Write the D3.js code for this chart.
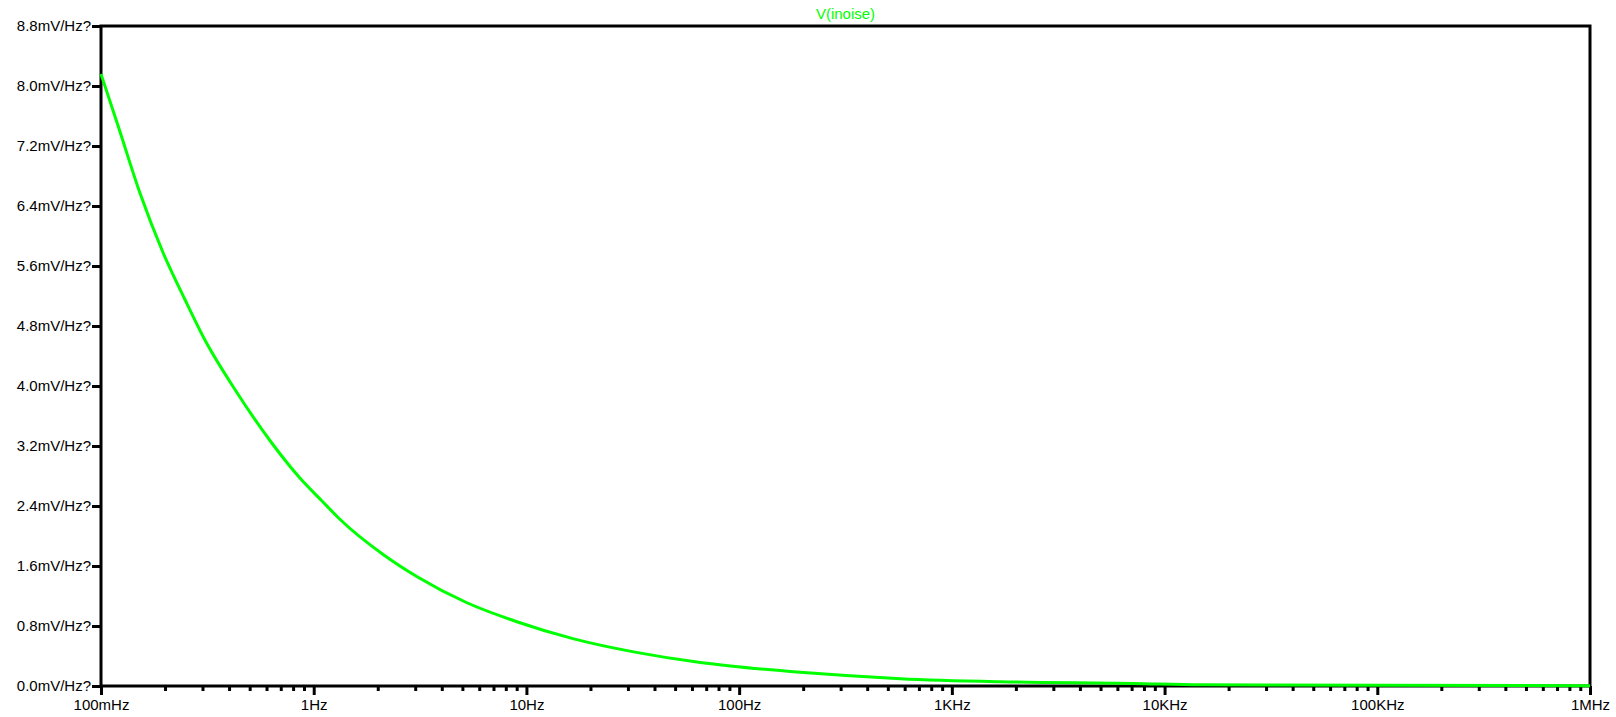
<!DOCTYPE html>
<html>
<head>
<meta charset="utf-8">
<script src="https://cdn.jsdelivr.net/npm/d3@7"></script>
<style>
    html, body { margin: 0; padding: 0; background: #ffffff; }
    #chart { width: 1616px; height: 717px; }
</style>
</head>
<body>
<div id="chart"></div>
<script>
// Noise spectral density (frequency in Hz, value in mV/Hz?)
const freqs = [0.1, 0.1206, 0.1526, 0.1963, 0.2484, 0.3085, 0.427, 0.635, 0.863, 1.091, 1.331, 2.128, 3.05, 5.25, 9.02, 16.7, 31.9, 65.7, 91, 194, 573, 1694, 7150, 14800, 100000, 1000000];
const noise = [8.16, 7.46, 6.57, 5.77, 5.15, 4.61, 3.95, 3.24, 2.77, 2.47, 2.22, 1.75, 1.46, 1.11, 0.857, 0.628, 0.455, 0.314, 0.267, 0.182, 0.098, 0.057, 0.034, 0.016, 0.01, 0.005];

// Axis ticks
const yTicks = [0, 0.8, 1.6, 2.4, 3.2, 4.0, 4.8, 5.6, 6.4, 7.2, 8.0, 8.8];
const xMajor = [0.1, 1, 10, 100, 1e3, 1e4, 1e5, 1e6];
const xLabels = ['100mHz', '1Hz', '10Hz', '100Hz', '1KHz', '10KHz', '100KHz', '1MHz'];
const traceName = 'V(inoise)';

class Chart {
    constructor() {
        const attrs = {
            svgWidth: 1616,
            svgHeight: 717,
            marginTop: 26,
            marginBottom: 31,
            marginRight: 26,
            marginLeft: 101,
            container: '#chart',
            traceColor: '#00ff00',
            defaultFont: '"Liberation Sans", Arial, sans-serif',
            fontSize: 15
        };
        this.getState = () => attrs;
        this.setState = (d) => Object.assign(attrs, d);
    }

    render() {
        this.calculateProperties();
        this.drawSvgAndWrappers();
        this.drawAxes();
        this.drawTrace();
        return this;
    }

    calculateProperties() {
        const { svgWidth, svgHeight, marginLeft, marginRight, marginTop, marginBottom } = this.getState();
        const chartWidth = svgWidth - marginLeft - marginRight;
        const chartHeight = svgHeight - marginTop - marginBottom;

        const scaleX = d3.scaleLog()
            .domain([xMajor[0], xMajor[xMajor.length - 1]])
            .range([0, chartWidth]);
        const scaleY = d3.scaleLinear()
            .domain([0, yTicks[yTicks.length - 1]])
            .range([chartHeight, 0]);

        this.setState({ chartWidth, chartHeight, scaleX, scaleY });
    }

    drawSvgAndWrappers() {
        const { container, svgWidth, svgHeight, defaultFont, marginLeft, marginTop } = this.getState();

        const svg = d3.select(container)
            .append('svg')
            .attr('width', svgWidth)
            .attr('height', svgHeight)
            .attr('font-family', defaultFont);

        const chart = svg.append('g')
            .attr('transform', `translate(${marginLeft},${marginTop})`);

        this.setState({ svg, chart });
    }

    drawAxes() {
        const { chart, scaleX, scaleY, chartWidth, chartHeight, fontSize, traceColor } = this.getState();

        // Y axis
        const yAxis = d3.axisLeft(scaleY)
            .tickValues(yTicks)
            .tickSize(9)
            .tickPadding(1)
            .tickFormat(d => d.toFixed(1) + 'mV/Hz?');

        const yWrap = chart.append('g').attr('class', 'y-axis').call(yAxis);
        yWrap.select('.domain').remove();
        yWrap.selectAll('.tick line').attr('stroke', '#000').attr('stroke-width', 3);
        yWrap.selectAll('text').attr('font-size', fontSize).attr('fill', '#000');

        // X axis, minor ticks (2..9 per decade)
        const minor = [];
        xMajor.slice(0, -1).forEach(m => {
            for (let k = 2; k <= 9; k++) minor.push(m * k);
        });
        const xMinor = d3.axisBottom(scaleX).tickValues(minor).tickSize(5).tickFormat('');
        const xMinorWrap = chart.append('g')
            .attr('transform', `translate(0,${chartHeight})`)
            .call(xMinor);
        xMinorWrap.select('.domain').remove();
        xMinorWrap.selectAll('.tick line').attr('stroke', '#000').attr('stroke-width', 3);

        // X axis, decades
        const xAxis = d3.axisBottom(scaleX)
            .tickValues(xMajor)
            .tickSize(9)
            .tickPadding(4.5)
            .tickFormat((d, i) => xLabels[i]);
        const xWrap = chart.append('g')
            .attr('transform', `translate(0,${chartHeight})`)
            .call(xAxis);
        xWrap.select('.domain').remove();
        xWrap.selectAll('.tick line').attr('stroke', '#000').attr('stroke-width', 3);
        xWrap.selectAll('text').attr('font-size', fontSize).attr('fill', '#000');

        // Frame
        chart.append('rect')
            .attr('x', 0)
            .attr('y', 0)
            .attr('width', chartWidth)
            .attr('height', chartHeight)
            .attr('fill', 'none')
            .attr('stroke', '#000')
            .attr('stroke-width', 3);

        // Trace title
        chart.append('text')
            .attr('x', chartWidth / 2)
            .attr('y', -7)
            .attr('text-anchor', 'middle')
            .attr('font-size', fontSize)
            .attr('fill', traceColor)
            .text(traceName);
    }

    drawTrace() {
        const { chart, scaleX, scaleY, traceColor } = this.getState();
        const points = freqs.map((f, i) => ({ f, v: noise[i] }));

        const line = d3.line()
            .x(d => scaleX(d.f))
            .y(d => scaleY(d.v))
            .curve(d3.curveMonotoneX);

        chart.append('path')
            .datum(points)
            .attr('fill', 'none')
            .attr('stroke', traceColor)
            .attr('stroke-width', 3)
            .attr('d', line);
    }
}

new Chart().render();
</script>
</body>
</html>
